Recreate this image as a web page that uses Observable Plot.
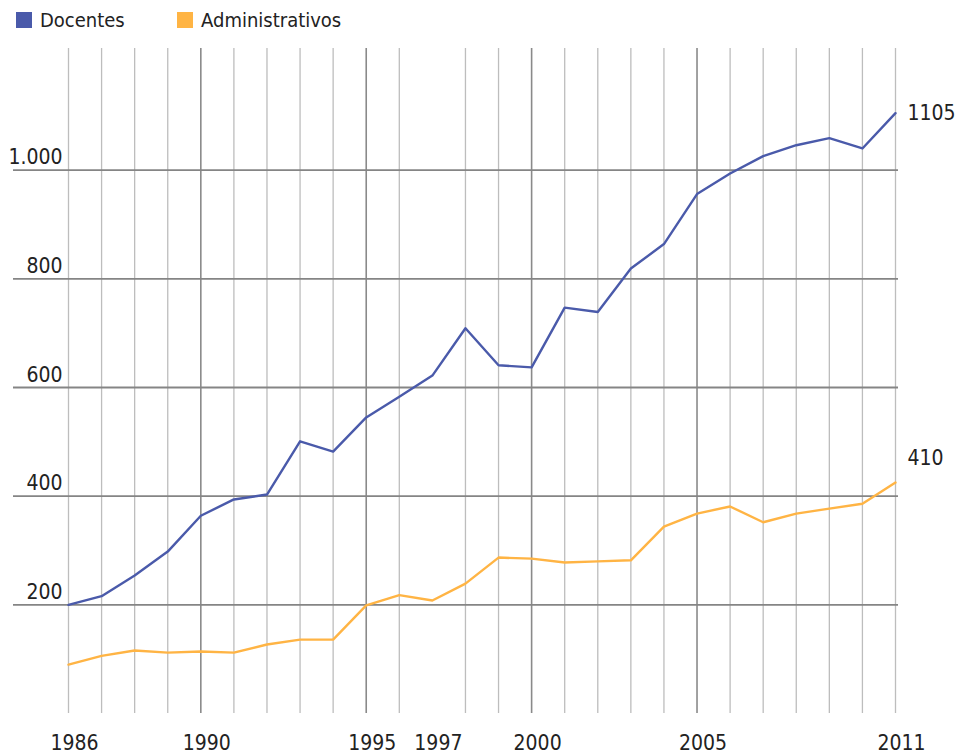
<!DOCTYPE html>
<html>
<head>
<meta charset="utf-8">
<script src="https://cdn.jsdelivr.net/npm/d3@7"></script>
<script src="https://cdn.jsdelivr.net/npm/@observablehq/plot@0.6"></script>
<style>
  body { margin: 0; background: #fff; font-family: "DejaVu Sans Condensed", "DejaVu Sans", sans-serif; font-stretch: condensed; color: #222; }
  #legend { height: 40px; position: relative; font-size: 20px; }
  .item { position: absolute; top: 8px; display: flex; align-items: center; }
  .sw { width: 16px; height: 16px; margin-right: 8px; }
  svg { display: block; }
</style>
</head>
<body>
<div id="legend"></div>
<div id="chart"></div>
<script>
const years = d3.range(1986, 2012);
const docentes = [200, 216, 254, 298, 364, 394, 403, 501, 482, 545, 583, 622, 709, 641, 637, 747, 739, 819, 864, 956, 994, 1026, 1046, 1059, 1040, 1105];
const administrativos = [90, 106, 116, 112, 114, 112, 127, 136, 136, 199, 218, 208, 239, 287, 285, 278, 280, 282, 344, 368, 381, 352, 368, 377, 386, 425];
const seriesNames = ["Docentes", "Administrativos"];
const seriesColors = ["#4a5aaa", "#ffb444"];
const endLabels = ["1105", "410"];
const yTicks = [200, 400, 600, 800, 1000];
const xTickLabels = [1986, 1990, 1995, 1997, 2000, 2005, 2011];
const majorYears = [1990, 1995, 2000, 2005];
const gridYears = years.filter(y => y !== 1997);

// legend
const legend = document.getElementById("legend");
const legendLeft = [16, 177];
seriesNames.forEach((n, i) => {
  const d = document.createElement("div");
  d.className = "item";
  d.style.left = legendLeft[i] + "px";
  d.innerHTML = `<div class="sw" style="background:${seriesColors[i]}"></div><span>${n}</span>`;
  legend.appendChild(d);
});

const data = [];
years.forEach((yr, i) => {
  data.push({year: yr, value: docentes[i], serie: seriesNames[0]});
  data.push({year: yr, value: administrativos[i], serie: seriesNames[1]});
});
const last = years.length - 1;
const endDoc = [{year: years[last], value: docentes[last], label: endLabels[0]}];
const endAdm = [{year: years[last], value: administrativos[last], label: endLabels[1]}];

const loc = d3.formatLocale({decimal: ",", thousands: ".", grouping: [3], currency: ["", ""]});
const fmt = loc.format(",");

const font = '"DejaVu Sans Condensed", "DejaVu Sans", sans-serif';

const chart = Plot.plot({
  width: 957,
  height: 716,
  marginLeft: 13,
  marginRight: 59,
  marginTop: 8,
  marginBottom: 43,
  style: {fontFamily: font, fontSize: "21px", color: "#222", background: "#fff"},
  x: {domain: [1986, 2011], range: [68, 895], axis: null},
  y: {domain: [0, 1224], axis: null},
  color: {domain: seriesNames, range: seriesColors},
  marks: [
    Plot.ruleX(gridYears.filter(y => !majorYears.includes(y)), {x: d => d, stroke: "#bdbdbd", strokeWidth: 1.3}),
    Plot.ruleX(majorYears, {x: d => d, stroke: "#8a8a8a", strokeWidth: 1.6}),
    Plot.ruleY(yTicks, {y: d => d, stroke: "#858585", strokeWidth: 1.8}),
    Plot.text(yTicks, {y: d => d, text: d => fmt(d), frameAnchor: "left", dx: 49, textAnchor: "end", lineAnchor: "bottom", dy: -6, fill: "#222", fontSize: 21}),
    Plot.text(xTickLabels, {x: d => d, text: d => String(d), frameAnchor: "bottom", dx: 6, dy: 22, lineAnchor: "top", fill: "#222", fontSize: 21}),
    Plot.line(data, {x: "year", y: "value", z: "serie", stroke: "serie", strokeWidth: 2.4}),
    Plot.text(endDoc, {x: "year", y: "value", text: "label", dx: 12, textAnchor: "start", fill: "#222", fontSize: 21}),
    Plot.text(endAdm, {x: "year", y: "value", text: "label", dx: 12, dy: -24, textAnchor: "start", fill: "#222", fontSize: 21})
  ]
});
document.getElementById("chart").appendChild(chart);
</script>
</body>
</html>
